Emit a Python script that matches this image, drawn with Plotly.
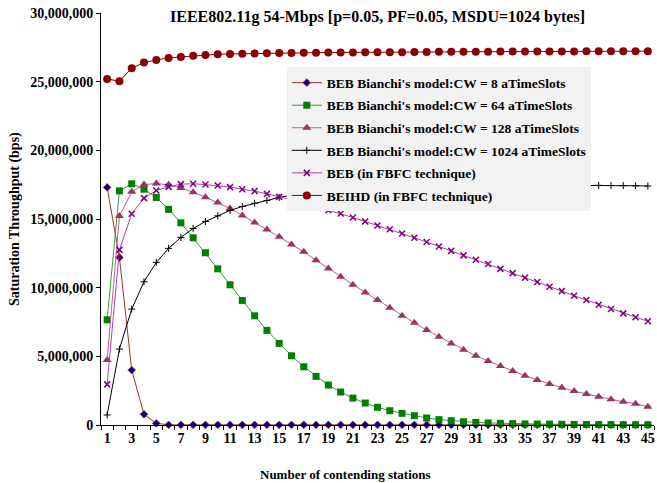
import plotly.graph_objects as go

stations = list(range(1, 46))
x_tick_labels = [str(i) for i in range(1, 46, 2)]

cw8 = [17.3, 12.2, 4.0, 0.78, 0.12] + [0.01] * 40
cw64 = [7.66, 17.05, 17.56, 17.17, 16.57, 15.70, 14.72, 13.63, 12.54, 11.37,
        10.21, 9.07, 7.95, 6.89, 5.94, 5.04, 4.24, 3.54, 2.91, 2.40,
        1.96, 1.60, 1.29, 1.04, 0.85, 0.68, 0.51, 0.39, 0.31, 0.24,
        0.19, 0.15, 0.12, 0.10, 0.08, 0.07, 0.06, 0.05, 0.04, 0.035,
        0.03, 0.025, 0.02, 0.018, 0.015]
cw128 = [4.73, 15.21, 16.98, 17.51, 17.58, 17.49, 17.25, 16.95, 16.59, 16.20,
         15.77, 15.26, 14.75, 14.24, 13.70, 13.15, 12.61, 12.00, 11.40, 10.79,
         10.21, 9.65, 9.10, 8.54, 7.95, 7.44, 6.91, 6.43, 5.94, 5.48,
         5.04, 4.66, 4.29, 3.93, 3.59, 3.27, 2.98, 2.72, 2.47, 2.26,
         2.06, 1.87, 1.70, 1.55, 1.33]
cw1024 = [0.73, 5.53, 8.44, 10.43, 11.84, 12.86, 13.66, 14.31, 14.82, 15.23,
          15.62, 15.91, 16.15, 16.35, 16.57, 16.74, 16.88, 17.00, 17.09, 17.17,
          17.23, 17.28, 17.32, 17.35, 17.38, 17.40, 17.42, 17.43, 17.44, 17.45,
          17.46, 17.46, 17.46, 17.46, 17.46, 17.46, 17.46, 17.46, 17.45, 17.45,
          17.45, 17.44, 17.43, 17.42, 17.40]
beb_fbfc = [2.96, 12.75, 15.38, 16.52, 17.08, 17.34, 17.54, 17.56, 17.51, 17.44,
            17.32, 17.17, 17.03, 16.83, 16.61, 16.40, 16.18, 15.89, 15.64, 15.40,
            15.11, 14.82, 14.53, 14.26, 13.95, 13.63, 13.32, 13.00, 12.68, 12.35,
            12.03, 11.72, 11.37, 11.06, 10.72, 10.41, 10.06, 9.75, 9.41, 9.10,
            8.75, 8.44, 8.13, 7.84, 7.55]
beihd = [25.20, 25.03, 25.98, 26.39, 26.58, 26.73, 26.80, 26.88, 26.94, 26.99,
         27.02, 27.04, 27.06, 27.07, 27.08, 27.09, 27.10, 27.11, 27.12, 27.12,
         27.13, 27.14, 27.14, 27.15, 27.15, 27.16, 27.16, 27.17, 27.17, 27.18,
         27.18, 27.18, 27.19, 27.19, 27.19, 27.20, 27.20, 27.20, 27.20, 27.21,
         27.21, 27.21, 27.21, 27.22, 27.22]

names = [
    "BEB Bianchi's model:CW = 8 aTimeSlots",
    "BEB Bianchi's model:CW = 64 aTimeSlots",
    "BEB Bianchi's model:CW = 128 aTimeSlots",
    "BEB Bianchi's model:CW = 1024 aTimeSlots",
    "BEB (in FBFC technique)",
    "BEIHD (in FBFC technique)",
]

M = 1_000_000
FONT = "Liberation Serif"

styles = [
    (cw8, dict(color="#A0302F", width=1), dict(symbol="diamond", size=6, color="#000080", line=dict(color="#C03030", width=0.8))),
    (cw64, dict(color="#3A9A3A", width=1), dict(symbol="square", size=7, color="#008000", line=dict(color="#008000", width=0))),
    (cw128, dict(color="#C06090", width=1), dict(symbol="triangle-up", size=8, color="#993366", line=dict(width=0))),
    (cw1024, dict(color="#000000", width=1), dict(symbol="cross-thin", size=5, color="#000000", line=dict(color="#000000", width=1))),
    (beb_fbfc, dict(color="#B040B0", width=1), dict(symbol="x-thin", size=6, color="#800080", line=dict(color="#800080", width=1.5))),
    (beihd, dict(color="#8B0000", width=1), dict(symbol="circle", size=8, color="#8B0000", line=dict(width=0))),
]

fig = go.Figure()
for i, (vals, ln, mk) in enumerate(styles):
    fig.add_trace(go.Scatter(
        x=stations, y=[v * M for v in vals], name=names[i],
        mode="lines+markers", line=ln, marker=mk, cliponaxis=False,
        legendgroup=f"g{i}",
    ))

fig.update_layout(
    width=657, height=483,
    margin=dict(l=101, r=3, t=13, b=58),
    paper_bgcolor="white", plot_bgcolor="white",
    font=dict(family=FONT, size=14, color="black", weight="bold"),
    title=dict(text="IEEE802.11g 54-Mbps [p=0.05, PF=0.05, MSDU=1024 bytes]",
               font=dict(family=FONT, size=16, weight="bold"),
               x=(101 + 654) / 2 / 657, xanchor="center",
               y=1 - 16.5 / 483, yanchor="middle", yref="container"),
    showlegend=True,
    legend=dict(x=0.336, y=0.868, xanchor="left", yanchor="top",
                bgcolor="#F2F2F2", borderwidth=0,
                font=dict(family=FONT, size=13.5, weight="bold"),
                itemwidth=30, tracegroupgap=2),
    xaxis=dict(range=[0.5, 45.5], showgrid=False, zeroline=False,
               showline=True, linecolor="black", linewidth=1,
               tickvals=list(range(1, 46, 2)), ticktext=x_tick_labels,
               ticks="outside", ticklen=0,
               minor=dict(tick0=0.5, dtick=1, ticks="outside", ticklen=4, tickcolor="black"),
               tickfont=dict(family=FONT, size=14, weight="bold")),
    yaxis=dict(range=[0, 30 * M], dtick=5 * M, tickformat=",d", showgrid=False,
               zeroline=False, showline=True, linecolor="black", linewidth=1,
               ticks="outside", ticklen=4, tickcolor="black",
               tickfont=dict(family=FONT, size=14, weight="bold")),
    annotations=[
        dict(text="Saturation Throughput (bps)", textangle=-90, showarrow=False,
             xref="paper", yref="paper", x=0, y=0.5, xshift=-86, xanchor="center", yanchor="middle",
             font=dict(family=FONT, size=14, weight="bold")),
        dict(text="Number of contending stations", showarrow=False,
             xref="paper", yref="paper", x=(345 - 101) / 553, y=0, yshift=-49,
             xanchor="center", yanchor="middle",
             font=dict(family=FONT, size=13, weight="bold")),
    ],
)

fig.write_html("out.html")
